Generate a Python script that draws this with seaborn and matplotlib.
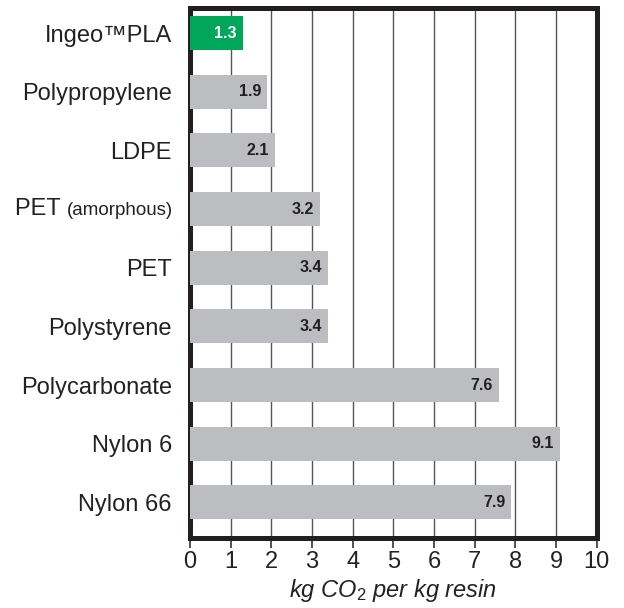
import matplotlib
matplotlib.use("Agg")
import matplotlib.pyplot as plt
import seaborn as sns
import pandas as pd

materials = ["Ingeo\u2122PLA", "Polypropylene", "LDPE", "PET (amorphous)", "PET",
             "Polystyrene", "Polycarbonate", "Nylon 6", "Nylon 66"]
co2 = [1.3, 1.9, 2.1, 3.2, 3.4, 3.4, 7.6, 9.1, 7.9]
bar_colors = ["#00a65a"] + ["#bcbdc0"] * 8
xticks = list(range(0, 11))

sns.set_theme(style="white")
plt.rcParams['font.family'] = ['Liberation Sans', 'DejaVu Sans']
plt.rcParams['mathtext.fontset'] = 'custom'
plt.rcParams['mathtext.it'] = 'Liberation Sans:italic'
plt.rcParams['mathtext.rm'] = 'Liberation Sans'
plt.rcParams['mathtext.default'] = 'it'

df = pd.DataFrame({"material": materials, "co2": co2})

fig = plt.figure(figsize=(6.24, 6.08), dpi=100)
ax = fig.add_axes([0.3045, 0.115, 0.652, 0.872])

sns.barplot(data=df, x="co2", y="material", hue="material", palette=bar_colors,
            legend=False, width=0.58, saturation=1, linewidth=0, ax=ax, zorder=3)

ax.set_xlim(0, 10)
ax.set_ylim(8.61, -0.43)
ax.set_xticks(xticks)
ax.set_xticklabels([str(t) for t in xticks], fontsize=17, color="#222222")
ax.xaxis.grid(True, color="#555555", linewidth=1.0, zorder=0)
ax.yaxis.grid(False)
ax.set_axisbelow(True)
ax.tick_params(axis="x", bottom=True, direction="out", length=7, width=1.2,
               color="#333333", pad=2)
ax.tick_params(axis="y", left=False, pad=7)

for s in ax.spines.values():
    s.set_visible(True)
    s.set_color("#231f20")
    s.set_linewidth(3.6)

# y labels: PET (amorphous) has a smaller suffix
labels = list(materials)
labels[3] = ""
ax.set_yticks(range(len(materials)))
ax.set_yticklabels(labels, fontsize=17, color="#222222")

fig.canvas.draw()
renderer = fig.canvas.get_renderer()
trans = ax.get_yaxis_transform()
small = ax.annotate("(amorphous)", xy=(0, 3), xycoords=trans, xytext=(-12, -1),
                    textcoords="offset points", ha="right", va="center",
                    fontsize=13.5, color="#222222")
w = small.get_window_extent(renderer).width * 72 / fig.dpi
ax.annotate("PET ", xy=(0, 3), xycoords=trans, xytext=(-12 - w, 0),
            textcoords="offset points", ha="right", va="center",
            fontsize=17, color="#222222")

for i, v in enumerate(co2):
    ax.text(v - 0.15, i, f"{v}", ha="right", va="center", fontsize=11.5,
            fontweight="bold", color="white" if i == 0 else "#231f20", zorder=4)

ax.set_ylabel("")
ax.set_xlabel("kg CO$_2$ per kg resin", fontsize=17, fontstyle="italic",
              color="#222222", labelpad=3)

fig.savefig("out.png", dpi=100)
